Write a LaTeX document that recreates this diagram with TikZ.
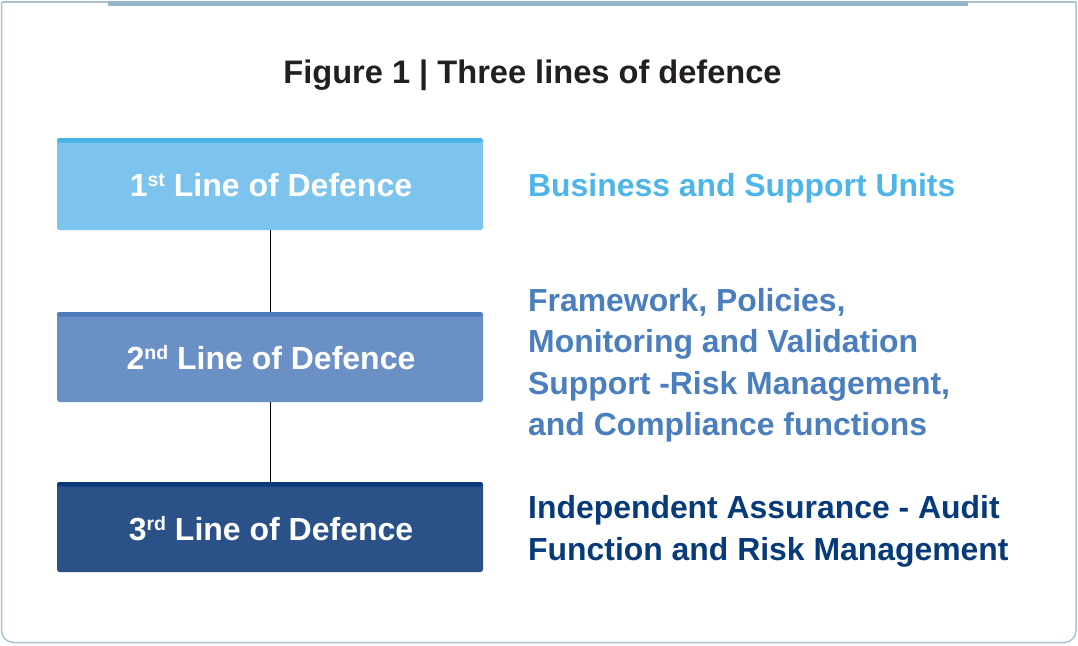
\documentclass[tikz,border=0pt]{standalone}
\usepackage{fontspec}
\setmainfont{Liberation Sans}
\definecolor{framecol}{HTML}{A8C3D2}
\definecolor{topbarcol}{HTML}{95B4C5}
\definecolor{titlecol}{HTML}{231F20}
\definecolor{bafill}{HTML}{7CC4EE}
\definecolor{bastripe}{HTML}{4AB3E6}
\definecolor{batext}{HTML}{4DB5E9}
\definecolor{bbfill}{HTML}{6B90C6}
\definecolor{bbstripe}{HTML}{4A7CBB}
\definecolor{bbtext}{HTML}{4A7EBC}
\definecolor{bcfill}{HTML}{2B5189}
\definecolor{bcstripe}{HTML}{073A7A}
\definecolor{bctext}{HTML}{063A78}
\tikzset{
  topstripe/.style={path picture={\fill[#1] (path picture bounding box.north west) rectangle ([yshift=-4.5pt]path picture bounding box.north east);}},
  linebox/.style={draw=none, rounded corners=2.5pt, minimum width=426pt, inner sep=0pt},
  lbl/.style={text=white, font=\bfseries\fontsize{32}{32}\selectfont, inner sep=0pt, anchor=base},
  desc/.style={font=\bfseries\fontsize{31.9}{41.5}\selectfont, inner sep=0pt, anchor=base west},
  conn/.style={draw=black, line width=0.9pt},
}
\newcommand{\supx}[1]{\raisebox{10pt}{\fontsize{19.5}{19.5}\selectfont #1}}
\begin{document}
\begin{tikzpicture}[x=1pt,y=-1pt]
\useasboundingbox (0,0) rectangle (1078,645);
% frame
\draw[framecol, line width=1.5pt, rounded corners=12pt] (1.5,2) -- (1.5,642.5) -- (1076,642.5) -- (1076,2);
\draw[framecol, line width=1.5pt] (1.5,2) -- (1076,2);
\fill[topbarcol] (108,1) rectangle (968,5.5);
% title
\node[font=\bfseries\fontsize{32.6}{32.6}\selectfont, text=titlecol, inner sep=0pt, anchor=base] (title) at (532.5,83) {Figure 1 | Three lines of defence};
% boxes
\node[linebox, minimum height=92pt, fill=bafill, topstripe=bastripe] (b1) at (270,184) {};
\node[linebox, minimum height=90pt, fill=bbfill, topstripe=bbstripe] (b2) at (270,357) {};
\node[linebox, minimum height=90pt, fill=bcfill, topstripe=bcstripe] (b3) at (270,527) {};
\draw[conn] (b1.south) -- (b2.north);
\draw[conn] (b2.south) -- (b3.north);
% labels
\node[lbl] (l1) at (271,196) {1\supx{st} Line of Defence};
\node[lbl] (l2) at (271,369) {2\supx{nd} Line of Defence};
\node[lbl] (l3) at (271,540) {3\supx{rd} Line of Defence};
% descriptions
\node[desc, text=batext] (d1) at (528,196) {Business and Support Units};
\node[desc, text=bbtext] (d2a) at (528,311) {Framework, Policies,};
\node[desc, text=bbtext] (d2b) at (528,352.5) {Monitoring and Validation};
\node[desc, text=bbtext] (d2c) at (528,394) {Support -Risk Management,};
\node[desc, text=bbtext] (d2d) at (528,435.5) {and Compliance functions};
\node[desc, text=bctext] (d3a) at (528,518) {Independent Assurance - Audit};
\node[desc, text=bctext] (d3b) at (528,560) {Function and Risk Management};
\end{tikzpicture}
\end{document}
